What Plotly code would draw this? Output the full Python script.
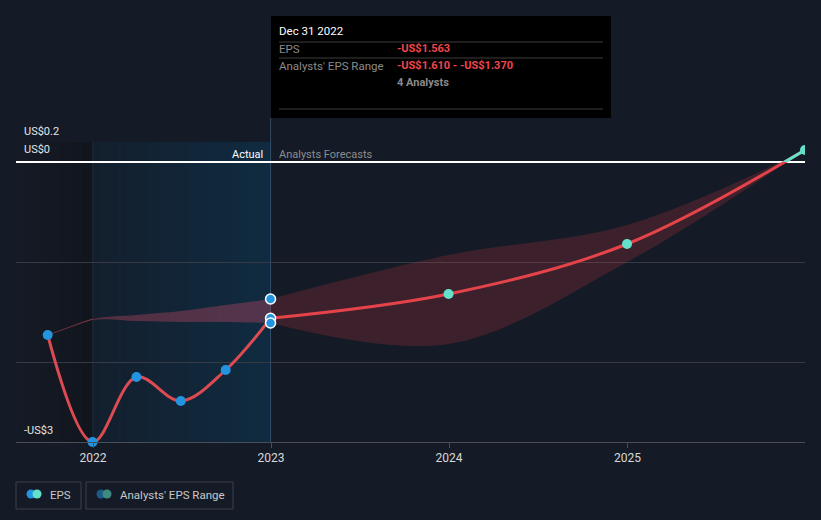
import plotly.graph_objects as go
import pandas as pd

# ---------------- data ----------------
past_dates = ["2021-09-30", "2021-12-31", "2022-03-31", "2022-06-30", "2022-09-30", "2022-12-31"]
past_eps = [-1.73, -2.80, -2.15, -2.39, -2.08, -1.563]
past_range_hi = [-1.73, -1.57, -1.53, -1.49, -1.43, -1.37]
past_range_lo = [-1.73, -1.58, -1.59, -1.60, -1.60, -1.61]

fc_dates = ["2022-12-31", "2023-12-31", "2024-12-31", "2025-12-31"]
fc_eps = [-1.563, -1.32, -0.82, 0.12]
fc_hi = [-1.37, -0.93, -0.63, 0.12]
fc_lo = [-1.61, -1.82, -1.00, 0.12]

tick_vals = ["2022-01-01", "2023-01-01", "2024-01-01", "2025-01-01"]
tick_text = ["2022", "2023", "2024", "2025"]

tooltip_date = "Dec 31 2022"
tooltip_eps = "-US$1.563"
tooltip_range = "-US$1.610 - -US$1.370"
tooltip_analysts = "4 Analysts"

# ---------------- style ----------------
BG = "#151b26"
RED = "#e5434a"
BLUE = "#2394df"
TEAL = "#64e0cb"
FONT = "Roboto"

W, H = 821, 520
L, R, T, B = 16, 805, 142, 442


def px(x):
    return (x - L) / (R - L)


def py(y):
    return (B - y) / (B - T)


fig = go.Figure()

# past band
fig.add_trace(go.Scatter(x=past_dates, y=past_range_hi, mode="lines", line=dict(width=0, shape="spline"),
                         hoverinfo="skip", showlegend=False))
fig.add_trace(go.Scatter(x=past_dates, y=past_range_lo, mode="lines", line=dict(width=0, shape="spline"),
                         fill="tonexty", fillcolor="rgba(205,75,100,0.35)", hoverinfo="skip", showlegend=False))
fig.add_trace(go.Scatter(x=past_dates[:2], y=past_range_hi[:2], mode="lines",
                         line=dict(width=1, color="rgba(200,75,95,0.5)", shape="spline"),
                         hoverinfo="skip", showlegend=False))
# forecast band
fig.add_trace(go.Scatter(x=fc_dates, y=fc_hi, mode="lines", line=dict(width=0, shape="spline"),
                         hoverinfo="skip", showlegend=False))
fig.add_trace(go.Scatter(x=fc_dates, y=fc_lo, mode="lines", line=dict(width=0, shape="spline"),
                         fill="tonexty", fillcolor="rgba(220,60,70,0.2)", hoverinfo="skip", showlegend=False))

# EPS lines
fig.add_trace(go.Scatter(x=past_dates, y=past_eps, mode="lines",
                         line=dict(color="#dc4a52", width=3, shape="spline"), hoverinfo="skip", showlegend=False))
fig.add_trace(go.Scatter(x=fc_dates, y=fc_eps, mode="lines",
                         line=dict(color=RED, width=3, shape="spline"), hoverinfo="skip", showlegend=False))
# teal above-zero part (clipped by upper subplot)
fig.add_trace(go.Scatter(x=fc_dates, y=fc_eps, mode="lines", xaxis="x", yaxis="y2",
                         line=dict(color=TEAL, width=3, shape="spline"), hoverinfo="skip", showlegend=False))

# markers
fig.add_trace(go.Scatter(x=past_dates[:-1], y=past_eps[:-1], mode="markers", cliponaxis=False,
                         marker=dict(color=BLUE, size=10), hoverinfo="skip", showlegend=False))
fig.add_trace(go.Scatter(x=fc_dates[1:], y=fc_eps[1:], mode="markers",
                         marker=dict(color=TEAL, size=10), hoverinfo="skip", showlegend=False))
fig.add_trace(go.Scatter(x=[past_dates[-1]] * 3, y=[past_range_hi[-1], past_eps[-1], past_range_lo[-1]],
                         mode="markers", marker=dict(color=BLUE, size=10, line=dict(color="white", width=1.5)),
                         hoverinfo="skip", showlegend=False))

shapes = []


def lerp(a, b, t):
    return tuple(int(round(a[i] + (b[i] - a[i]) * t)) for i in range(3))


# gradient in the past region (overlapping strips to avoid seams)
n = 30
d0 = pd.Timestamp("2022-01-01")
d1 = pd.Timestamp("2022-12-31")
c0, c1 = (19, 31, 45), (16, 43, 65)
for i in range(n):
    xa = d0 + (d1 - d0) * i / n
    c = lerp(c0, c1, (i + 0.5) / n)
    shapes.append(dict(type="rect", xref="x", yref="paper", x0=xa, x1=d1, y0=0, y1=1,
                       fillcolor="rgb(%d,%d,%d)" % c, line=dict(width=0), layer="below"))
dl0 = pd.Timestamp("2021-07-27")
cl0, cl1 = (21, 27, 38), (17, 21, 29)
n2 = 16
for i in range(n2):
    xa = dl0 + (d0 - dl0) * i / n2
    c = lerp(cl0, cl1, (i + 0.5) / n2)
    shapes.append(dict(type="rect", xref="x", yref="paper", x0=xa, x1=d0, y0=0, y1=1,
                       fillcolor="rgb(%d,%d,%d)" % c, line=dict(width=0), layer="below"))
shapes.append(dict(type="line", xref="x", yref="paper", x0=d0, x1=d0, y0=0, y1=1,
                   line=dict(color="rgba(60,85,110,0.5)", width=1), layer="below"))
# cursor line
shapes.append(dict(type="line", xref="x", yref="paper", x0="2022-12-31", x1="2022-12-31", y0=0, y1=py(118),
                   line=dict(color="rgba(70,100,130,0.6)", width=1), layer="below"))

# tooltip box
shapes.append(dict(type="rect", xref="paper", yref="paper", x0=px(271), x1=px(611), y0=py(118), y1=py(16),
                   fillcolor="#000000", line=dict(width=0), layer="above"))
for yy in (42, 58, 109):
    shapes.append(dict(type="line", xref="paper", yref="paper", x0=px(279), x1=px(603), y0=py(yy), y1=py(yy),
                       line=dict(color="#3c3c3c", width=1), layer="above"))

# legend boxes
for (x0, x1) in ((16, 81), (86, 233)):
    shapes.append(dict(type="rect", xref="paper", yref="paper", x0=px(x0), x1=px(x1), y0=py(509), y1=py(482),
                       fillcolor="rgba(0,0,0,0)", line=dict(color="#3a3f4a", width=1), layer="above"))


def dot(cx, cy, r, color):
    return dict(type="circle", xref="paper", yref="paper", x0=px(cx - r), x1=px(cx + r),
                y0=py(cy + r), y1=py(cy - r), fillcolor=color, line=dict(width=0), layer="above")


shapes += [dot(31, 494, 4.5, BLUE), dot(37, 494, 4.5, TEAL),
           dot(101, 494, 4.5, "#1e5a86"), dot(107, 494, 4.5, "#3d8a80")]

annotations = []


def txt(x, y, s, color, size=12, anchor="left", bold=False):
    annotations.append(dict(xref="paper", yref="paper", x=px(x), y=py(y), text=("<b>%s</b>" % s) if bold else s,
                            showarrow=False, xanchor=anchor, yanchor="middle",
                            font=dict(family=FONT, size=size, color=color)))


txt(22, 131, "US$0.2", "#e6e6e6", 11)
txt(22, 150, "US$0", "#e6e6e6", 11)
txt(22, 430, "-US$3", "#e6e6e6", 11)
txt(265, 154, "Actual", "#ffffff", 11, anchor="right")
txt(277, 154, "Analysts Forecasts", "#8c8c8c", 11)

txt(277, 31, tooltip_date, "#ffffff", 11.5)
txt(277, 49, "EPS", "#8a8a8a", 11.5)
txt(395, 49, tooltip_eps, "#f0454c", 11, bold=True)
txt(277, 66, "Analysts' EPS Range", "#8a8a8a", 11.5)
txt(395, 66, tooltip_range, "#f0454c", 11, bold=True)
txt(395, 83, tooltip_analysts, "#8a8a8a", 11, bold=True)

txt(48, 495, "EPS", "#c8c8c8", 11.5)
txt(118, 495, "Analysts' EPS Range", "#c8c8c8", 11.5)

fig.update_layout(
    width=W, height=H,
    margin=dict(l=L, r=W - R, t=T, b=H - B, pad=0),
    paper_bgcolor=BG, plot_bgcolor="rgba(0,0,0,0)",
    showlegend=False,
    shapes=shapes, annotations=annotations,
    xaxis=dict(type="date", range=["2021-07-27", "2025-12-31"], tickvals=tick_vals, ticktext=tick_text,
               showgrid=False, zeroline=False, showline=True, linecolor="#484d57", linewidth=1,
               ticks="outside", ticklen=5, tickcolor="#484d57",
               tickfont=dict(family=FONT, size=12, color="#d8d8d8"), fixedrange=True),
    yaxis=dict(range=[-2.8, 0.2], tickvals=[-2, -1, 0.2], showticklabels=False,
               showgrid=True, gridcolor="#353a44", gridwidth=1,
               zeroline=True, zerolinecolor="#ffffff", zerolinewidth=1.5, domain=[0, 1]),
    yaxis2=dict(range=[0, 0.2], domain=[2.8 / 3, 1], anchor="x", visible=False,
                showgrid=False, zeroline=False),
)

fig.write_html("out.html", config={"displayModeBar": False},
               post_script="document.body.style.margin='0';document.body.style.background='%s';" % BG)
